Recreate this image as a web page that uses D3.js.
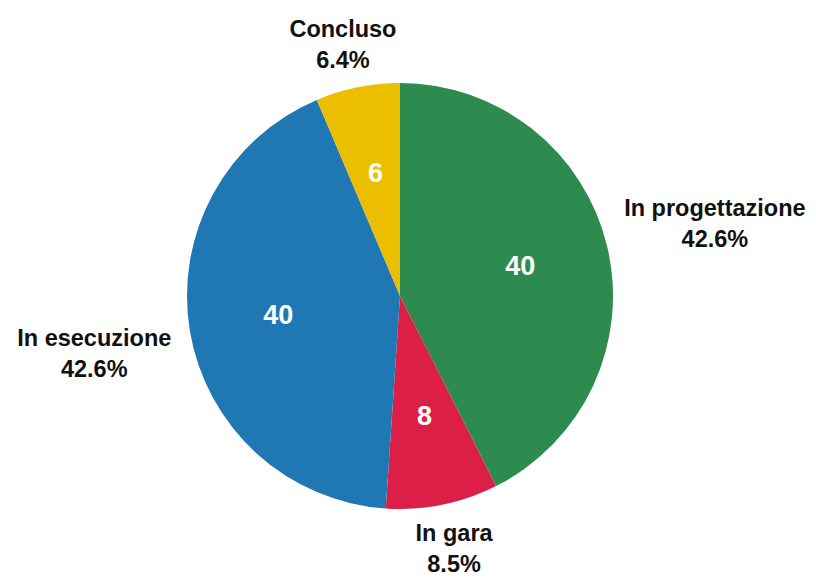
<!DOCTYPE html>
<html>
<head>
<meta charset="utf-8">
<script src="https://cdn.jsdelivr.net/npm/d3@7"></script>
<style>
  body { margin: 0; background: #fff; }
  svg text { font-family: "Liberation Sans", Arial, Helvetica, sans-serif; font-weight: bold; }
</style>
</head>
<body>
<div id="chart"></div>
<script>
// dati del grafico
const categories = ["In progettazione", "In gara", "In esecuzione", "Concluso"];
const values = [40, 8, 40, 6];
const percentLabels = ["42.6%", "8.5%", "42.6%", "6.4%"];
const colors = ["#2e8b4f", "#dc1f47", "#1f77b4", "#ebbf00"];

const width = 816;
const height = 578;
const radius = 213;
const cx = 400;
const cy = 296;

const svg = d3.select("#chart")
  .append("svg")
    .attr("width", width)
    .attr("height", height)
  .append("g")
    .attr("transform", "translate(" + cx + "," + cy + ")");

const data = categories.map((c, i) => ({ name: c, value: values[i], pct: percentLabels[i], color: colors[i] }));

const pie = d3.pie()
  .value(d => d.value)
  .sort(null);

const arc = d3.arc()
  .innerRadius(0)
  .outerRadius(radius);

const inner = d3.arc()
  .innerRadius(radius * 0.58)
  .outerRadius(radius * 0.58);

const arcs = pie(data);

svg.selectAll("path")
  .data(arcs)
  .enter()
  .append("path")
  .attr("d", arc)
  .attr("fill", d => d.data.color);

// valori dentro le fette
svg.selectAll(".val")
  .data(arcs)
  .enter()
  .append("text")
  .attr("class", "val")
  .attr("transform", d => "translate(" + inner.centroid(d) + ")")
  .attr("text-anchor", "middle")
  .attr("dy", "0.28em")
  .attr("fill", "#fff")
  .attr("font-size", "27px")
  .text(d => d.data.value);

// etichette esterne: nome + percentuale
const fontSize = 23.5;
const lineGap = 31;
const capH = fontSize * 0.72;
const blockH = lineGap + capH;
const gap = 20;

arcs.forEach(d => {
  const a = (d.startAngle + d.endAngle) / 2;
  const s = Math.sin(a), c = Math.cos(a);
  const g = svg.append("g");
  const t1 = g.append("text")
    .attr("text-anchor", "middle")
    .attr("font-size", fontSize + "px")
    .attr("fill", "#111")
    .text(d.data.name);
  const t2 = g.append("text")
    .attr("text-anchor", "middle")
    .attr("font-size", fontSize + "px")
    .attr("fill", "#111")
    .text(d.data.pct);
  const w = Math.max(t1.node().getComputedTextLength(), t2.node().getComputedTextLength());
  const r = radius + gap;
  const x = r * s + s * w / 2;
  const y = -r * c - Math.sign(c) * Math.pow(Math.abs(c), 0.15) * blockH / 2;
  const top = y - blockH / 2;
  t1.attr("x", x).attr("y", top + capH);
  t2.attr("x", x).attr("y", top + capH + lineGap);
});
</script>
</body>
</html>
